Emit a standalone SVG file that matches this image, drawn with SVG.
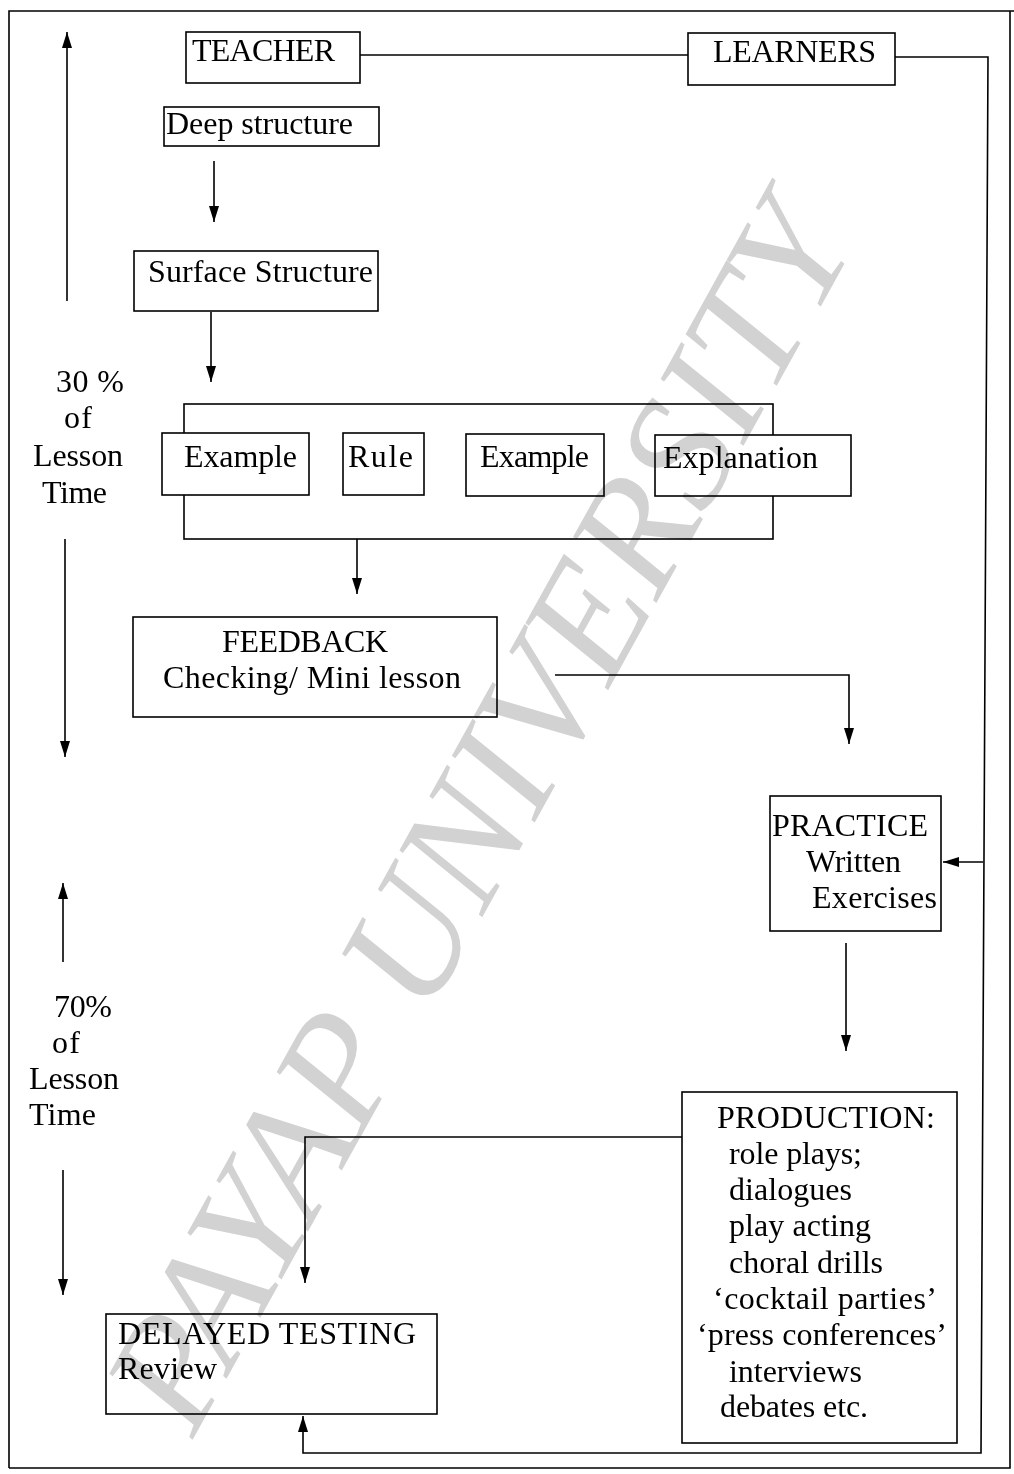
<svg xmlns="http://www.w3.org/2000/svg" width="1014" height="1474" viewBox="0 0 1014 1474">
<style>
.box{fill:#fff;stroke:#000;stroke-width:1.6}
.t{font-family:"Liberation Serif","Times New Roman",serif;font-size:32px;fill:#000}
.ln{fill:none;stroke:#000;stroke-width:1.6}
.wm{font-family:"Liberation Serif","Times New Roman",serif;font-style:italic;font-size:160px;fill:#d2d2d2;mix-blend-mode:multiply}
</style>
<defs>
<marker id="ah" viewBox="0 0 16 10" refX="16" refY="5" markerWidth="16" markerHeight="10" markerUnits="userSpaceOnUse" orient="auto">
<path d="M0,0 L16,5 L0,10 z" fill="#000"/>
</marker>
</defs>
<rect width="1014" height="1474" fill="#fff"/>
<path class="ln" d="M9,1468 L9,11 L1014,11 M1010,11 L1010,1468 L9,1468"/>

<g id="connectors">
<line class="ln" x1="360" y1="55" x2="688" y2="55"/>
<polyline class="ln" points="895,57 988,57 981,1453 303,1453 303,1416" marker-end="url(#ah)"/>
<line class="ln" x1="983" y1="862" x2="943" y2="862" marker-end="url(#ah)"/>
<line class="ln" x1="214" y1="161" x2="214" y2="222" marker-end="url(#ah)"/>
<line class="ln" x1="211" y1="312" x2="211" y2="382" marker-end="url(#ah)"/>
<line class="ln" x1="357" y1="539" x2="357" y2="594" marker-end="url(#ah)"/>
<polyline class="ln" points="555,675 849,675 849,744" marker-end="url(#ah)"/>
<line class="ln" x1="846" y1="943" x2="846" y2="1051" marker-end="url(#ah)"/>
<polyline class="ln" points="682,1137 305,1137 305,1283" marker-end="url(#ah)"/>
<line class="ln" x1="67" y1="301" x2="67" y2="32" marker-end="url(#ah)"/>
<line class="ln" x1="65" y1="539" x2="65" y2="757" marker-end="url(#ah)"/>
<line class="ln" x1="63" y1="962" x2="63" y2="883" marker-end="url(#ah)"/>
<line class="ln" x1="63" y1="1170" x2="63" y2="1295" marker-end="url(#ah)"/>
</g>

<g id="teacher">
<rect class="box" x="186" y="32" width="174" height="51"/>
<text class="t" x="192" y="61" textLength="143">TEACHER</text>
</g>
<g id="learners">
<rect class="box" x="688" y="33" width="207" height="52"/>
<text class="t" x="713" y="62" textLength="163">LEARNERS</text>
</g>
<g id="deep-structure">
<rect class="box" x="164" y="107" width="215" height="39"/>
<text class="t" x="166" y="134" textLength="187">Deep structure</text>
</g>
<g id="surface-structure">
<rect class="box" x="134" y="251" width="244" height="60"/>
<text class="t" x="148" y="282" textLength="225">Surface Structure</text>
</g>
<g id="group-bracket">
<rect class="box" x="184" y="404" width="589" height="135"/>
</g>
<g id="example-1">
<rect class="box" x="162" y="433" width="147" height="62"/>
<text class="t" x="184" y="467" textLength="113">Example</text>
</g>
<g id="rule">
<rect class="box" x="343" y="433" width="81" height="62"/>
<text class="t" x="348" y="467" textLength="65">Rule</text>
</g>
<g id="example-2">
<rect class="box" x="466" y="434" width="138" height="62"/>
<text class="t" x="480" y="467" textLength="109">Example</text>
</g>
<g id="explanation">
<rect class="box" x="655" y="435" width="196" height="61"/>
<text class="t" x="663" y="468" textLength="155">Explanation</text>
</g>
<g id="feedback">
<rect class="box" x="133" y="617" width="364" height="100"/>
<text class="t" x="222" y="652" textLength="166">FEEDBACK</text>
<text class="t" x="163" y="688" textLength="298">Checking/ Mini lesson</text>
</g>
<g id="practice">
<rect class="box" x="770" y="796" width="171" height="135"/>
<text class="t" x="772" y="836" textLength="156">PRACTICE</text>
<text class="t" x="806" y="872" textLength="95">Written</text>
<text class="t" x="812" y="908" textLength="125">Exercises</text>
</g>
<g id="production">
<rect class="box" x="682" y="1092" width="275" height="351"/>
<text class="t" x="717" y="1128" textLength="218">PRODUCTION:</text>
<text class="t" x="729" y="1164" textLength="133">role plays;</text>
<text class="t" x="729" y="1200" textLength="123">dialogues</text>
<text class="t" x="729" y="1236" textLength="142">play acting</text>
<text class="t" x="729" y="1273" textLength="154">choral drills</text>
<text class="t" x="713" y="1309" textLength="224">‘cocktail parties’</text>
<text class="t" x="697" y="1345" textLength="250">‘press conferences’</text>
<text class="t" x="729" y="1382" textLength="133">interviews</text>
<text class="t" x="720" y="1417" textLength="148">debates etc.</text>
</g>
<g id="delayed-testing">
<rect class="box" x="106" y="1314" width="331" height="100"/>
<text class="t" x="118" y="1344" textLength="298">DELAYED TESTING</text>
<text class="t" x="118" y="1379" textLength="99">Review</text>
</g>
<g id="label-30">
<text class="t" x="56" y="392" textLength="68">30 %</text>
<text class="t" x="64" y="428" textLength="28">of</text>
<text class="t" x="33" y="466" textLength="90">Lesson</text>
<text class="t" x="42" y="503" textLength="65">Time</text>
</g>
<g id="label-70">
<text class="t" x="54" y="1017" textLength="58">70%</text>
<text class="t" x="52" y="1053" textLength="28">of</text>
<text class="t" x="29" y="1089" textLength="90">Lesson</text>
<text class="t" x="29" y="1125" textLength="67">Time</text>
</g>

<g id="watermark">
<text class="wm" transform="translate(525,840) rotate(-61)" text-anchor="middle" textLength="1370" lengthAdjust="spacingAndGlyphs">PAYAP UNIVERSITY</text>
</g>
</svg>
